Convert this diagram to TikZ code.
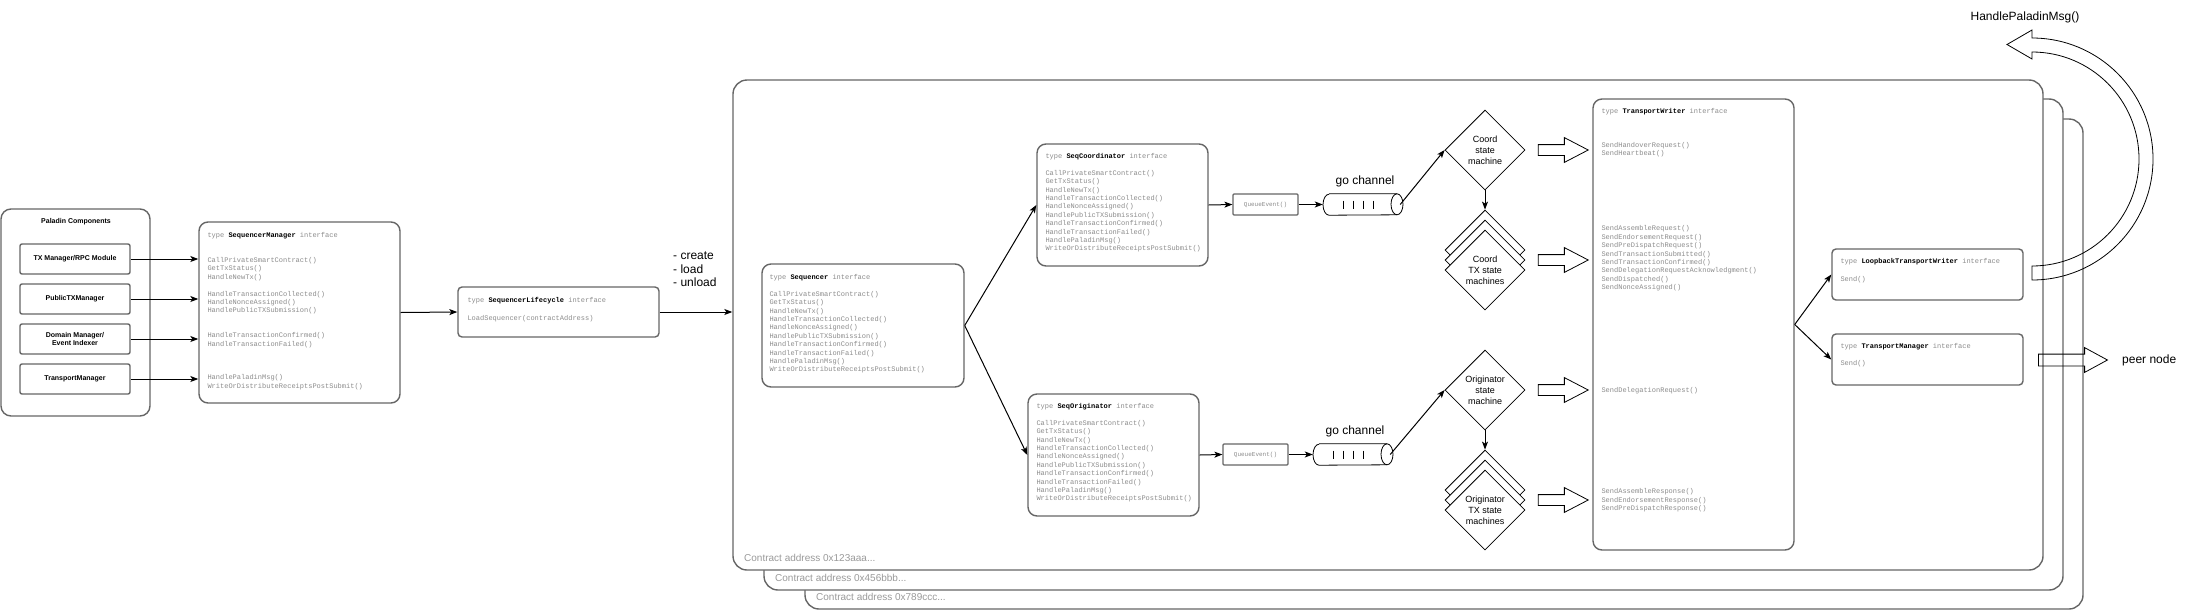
\documentclass[tikz,border=0pt]{standalone}
\usepackage{fontspec}
\setmainfont{Liberation Sans}
\setmonofont{Liberation Mono}
\usetikzlibrary{shapes.geometric, shapes.arrows, arrows.meta, positioning}
\definecolor{boxGray}{HTML}{666666}
\definecolor{codeGray}{HTML}{8C8C8C}
\definecolor{labelGray}{HTML}{9A9A9A}
\newcommand{\ifaceHead}[1]{type \textcolor{black}{\textbf{#1}} interface}
\newcommand{\seqMethods}{CallPrivateSmartContract()\\ GetTxStatus()\\ HandleNewTx()\\
	HandleTransactionCollected()\\ HandleNonceAssigned()\\ HandlePublicTXSubmission()\\
	HandleTransactionConfirmed()\\ HandleTransactionFailed()\\ HandlePaladinMsg()\\
	WriteOrDistributeReceiptsPostSubmit()}
\tikzset{
	ifBox/.style={
		draw=boxGray,
		line width=1.4pt,
		rounded corners=9pt,
		fill=white,
		inner sep=0pt
	},
	codeText/.style={
		inner sep=0pt,
		align=left,
		text=codeGray,
		font=\ttfamily\fontsize{7}{8.4}\selectfont
	},
	compBox/.style={
		draw=boxGray,
		line width=1.4pt,
		rounded corners=2pt,
		minimum width=110pt,
		minimum height=30pt,
		inner sep=0pt,
		align=center,
		font=\bfseries\fontsize{7}{8.5}\selectfont
	},
	ctrBox/.style={
		draw=boxGray,
		line width=1.4pt,
		rounded corners=14pt,
		fill=white,
		inner sep=0pt
	},
	ctrLabel/.style={
		text=labelGray,
		font=\fontsize{10}{12}\selectfont,
		anchor=west,
		inner sep=0pt
	},
	stateNode/.style={
		diamond,
		draw,
		fill=white,
		line width=0.8pt,
		minimum width=80pt,
		minimum height=80pt,
		inner sep=0pt,
		align=center,
		font=\fontsize{9}{11}\selectfont
	},
	chanNode/.style={
		minimum width=80pt,
		minimum height=21pt,
		inner sep=0pt
	},
	chanLine/.style={
		line width=0.8pt
	},
	queueBox/.style={
		draw=boxGray,
		line width=1.2pt,
		rounded corners=1pt,
		minimum width=65pt,
		minimum height=21pt,
		inner sep=0pt,
		text=codeGray,
		font=\ttfamily\fontsize{6}{7}\selectfont
	},
	blkArrow/.style={
		single arrow,
		draw,
		line width=0.8pt,
		inner sep=5pt,
		minimum height=50pt,
		single arrow head extend=7pt,
		single arrow tip angle=55
	},
	bigLabel/.style={
		font=\fontsize{12}{13.5}\selectfont,
		inner sep=0pt
	},
}

\begin{document}
\begin{tikzpicture}[x=1pt, y=-1pt
    ,   link/.style={-{Stealth[length=8pt, width=6pt, inset=2pt]}, line width=1pt}]
\useasboundingbox (0,0) rectangle (2204,611);

% paladin components
\node[ifBox, rounded corners=10pt, minimum width=149pt, minimum height=207pt] (PC) at (75.5,312.5) {};
\node[font=\bfseries\fontsize{7}{8.5}\selectfont, inner sep=0pt] (PCt) at (76,222) {Paladin Components};
\node[compBox] (TX) at (75,259) {TX Manager/RPC Module};
\node[compBox] (PT) at (75,299) {PublicTXManager};
\node[compBox] (DM) at (75,339) {Domain Manager/\\Event Indexer};
\node[compBox] (TR) at (75,379) {TransportManager};

% sequencer manager + lifecycle
\node[ifBox, minimum width=201pt, minimum height=181pt] (SM) at (299.5,312.5) {};
\node[codeText, below right=11pt and 9pt of SM.north west] (SMt) {\ifaceHead{SequencerManager}\\[16.5pt]
    CallPrivateSmartContract()\\ GetTxStatus()\\ HandleNewTx()\\[8.5pt]
    HandleTransactionCollected()\\ HandleNonceAssigned()\\ HandlePublicTXSubmission()\\[16.5pt]
    HandleTransactionConfirmed()\\ HandleTransactionFailed()\\[25pt]
    HandlePaladinMsg()\\ WriteOrDistributeReceiptsPostSubmit()};
\node[ifBox, rounded corners=4pt, minimum width=201pt, minimum height=50pt] (SL) at (558.5,312) {};
\node[codeText, below right=11pt and 10pt of SL.north west] (SLt) {\ifaceHead{SequencerLifecycle}\\[9.6pt]
    LoadSequencer(contractAddress)};
\node[bigLabel, anchor=west, align=left] (OPS) at (673,269.5) {- create\\- load\\- unload};

\draw[link] (TX.east) -- (TX.east -| SM.west);
\draw[link] (PT.east) -- (PT.east -| SM.west);
\draw[link] (DM.east) -- (DM.east -| SM.west);
\draw[link] (TR.east) -- (TR.east -| SM.west);
\draw[link] (SM.east) -- (SL.west);

% one box per contract
\node[ctrBox, minimum width=1278pt, minimum height=490pt] (C3) at (1444,364) {};
\node[ctrBox, minimum width=1299pt, minimum height=491pt] (C2) at (1413.5,344.5) {};
\node[ctrBox, minimum width=1310pt, minimum height=490pt] (C1) at (1388,325) {};
\node[ctrLabel] (L1) at (744,558) {Contract address 0x123aaa...};
\node[ctrLabel] (L2) at (775,578) {Contract address 0x456bbb...};
\node[ctrLabel] (L3) at (816,597) {Contract address 0x789ccc...};
\draw[link] (SL.east) -- (SL.east -| C1.west);

\node[ifBox, minimum width=202pt, minimum height=123pt] (SQ) at (863,325.5) {};
\node[codeText, below right=11pt and 8pt of SQ.north west] (SQt) {\ifaceHead{Sequencer}\\[8.4pt]\seqMethods};
\node[ifBox, minimum width=171pt, minimum height=122pt] (SC) at (1122.5,205) {};
\node[codeText, below right=10pt and 9pt of SC.north west] (SCt) {\ifaceHead{SeqCoordinator}\\[8.4pt]\seqMethods};
\node[ifBox, minimum width=171pt, minimum height=122pt] (SO) at (1113.5,455) {};
\node[codeText, below right=10pt and 9pt of SO.north west] (SOt) {\ifaceHead{SeqOriginator}\\[8.4pt]\seqMethods};
\draw[link] (SQ.east) -- (SC.west);
\draw[link] (SQ.east) -- (SO.west);

% coordinator side
\node[queueBox] (QA) at (1265.5,204.5) {QueueEvent()};
\node[chanNode] (CA) at (1363,204.5) {};
\draw[chanLine] ([xshift=-34pt]CA.north) -- ([xshift=34pt]CA.north)
    arc[start angle=-90, end angle=90, x radius=6, y radius=10.5]
    -- ([xshift=-34pt]CA.south) arc[start angle=90, end angle=270, x radius=6, y radius=10.5];
\draw[chanLine] ([xshift=34pt]CA.north) arc[start angle=-90, end angle=-270, x radius=6, y radius=10.5];
\foreach \dx in {-20,-10,0,10}
    \draw[chanLine] ([xshift=\dx pt, yshift=4pt]CA.center) -- ++(0,8);
\node[bigLabel] (GA) at (1365,181) {go channel};
\node[stateNode] (MA) at (1485,150) {Coord\\state\\machine};
\node[stateNode] (TA3) at (1485,250) {};
\node[stateNode] (TA2) at (1485,260) {};
\node[stateNode] (TA1) at (1485,270) {Coord\\TX state\\machines};
\draw[link] (SC.east) -- (QA.west);
\draw[link] (QA.east) -- (CA.west);
\draw[link] ([xshift=-3pt]CA.east) -- (MA.west);
\draw[link] (MA.south) -- (TA3.north);

% originator side
\node[queueBox] (QB) at (1255.5,454.5) {QueueEvent()};
\node[chanNode] (CB) at (1353,454.5) {};
\draw[chanLine] ([xshift=-34pt]CB.north) -- ([xshift=34pt]CB.north)
    arc[start angle=-90, end angle=90, x radius=6, y radius=10.5]
    -- ([xshift=-34pt]CB.south) arc[start angle=90, end angle=270, x radius=6, y radius=10.5];
\draw[chanLine] ([xshift=34pt]CB.north) arc[start angle=-90, end angle=-270, x radius=6, y radius=10.5];
\foreach \dx in {-20,-10,0,10}
    \draw[chanLine] ([xshift=\dx pt, yshift=4pt]CB.center) -- ++(0,8);
\node[bigLabel] (GB) at (1355,431) {go channel};
\node[stateNode] (MB) at (1485,390) {Originator\\state\\machine};
\node[stateNode] (TB3) at (1485,490) {};
\node[stateNode] (TB2) at (1485,500) {};
\node[stateNode] (TB1) at (1485,510) {Originator\\TX state\\machines};
\draw[link] (SO.east) -- (QB.west);
\draw[link] (QB.east) -- (CB.west);
\draw[link] ([xshift=-3pt]CB.east) -- (MB.west);
\draw[link] (MB.south) -- (TB3.north);

\foreach \y [count=\i] in {150,260,390,500}
    \node[blkArrow] (BA\i) at (1558,\y) {};

% transport
\node[ifBox, minimum width=201pt, minimum height=451pt] (TW) at (1693.5,324.5) {};
\node[codeText, below right=10pt and 9pt of TW.north west] (TWt) {\ifaceHead{TransportWriter}\\[25.6pt]
    SendHandoverRequest()\\ SendHeartbeat()\\[66.6pt]
    SendAssembleRequest()\\ SendEndorsementRequest()\\ SendPreDispatchRequest()\\
    SendTransactionSubmitted()\\ SendTransactionConfirmed()\\ SendDelegationRequestAcknowledgment()\\
    SendDispatched()\\ SendNonceAssigned()\\[94.6pt]
    SendDelegationRequest()\\[92.6pt]
    SendAssembleResponse()\\ SendEndorsementResponse()\\ SendPreDispatchResponse()};
\node[ifBox, rounded corners=4pt, minimum width=191pt, minimum height=51pt] (LW) at (1927.5,274.5) {};
\node[codeText, below right=10pt and 9pt of LW.north west] (LWt) {\ifaceHead{LoopbackTransportWriter}\\[9.6pt] Send()};
\node[ifBox, rounded corners=4pt, minimum width=191pt, minimum height=51pt] (TM) at (1927.5,359.5) {};
\node[codeText, below right=10pt and 9pt of TM.north west] (TMt) {\ifaceHead{TransportManager}\\[8.6pt] Send()};
\draw[link] (TW.east) -- (LW.west);
\draw[link] (TW.east) -- (TM.west);

\node[blkArrow, minimum height=69pt, inner sep=5.5pt, single arrow head extend=6.5pt, single arrow tip angle=57] (PA) at (2067.5,360) {};
\node[bigLabel, anchor=west] (PN) at (2122,360) {peer node};

\draw[line width=0.8pt] (2032,280) arc[start angle=90, end angle=-90, radius=121]
    -- (2032,30) -- (2007,44.5) -- (2032,59) -- (2032,52)
    arc[start angle=-90, end angle=90, radius=107] -- cycle;
\node[bigLabel] (HP) at (2025,17) {HandlePaladinMsg()};

\end{tikzpicture}
\end{document}
